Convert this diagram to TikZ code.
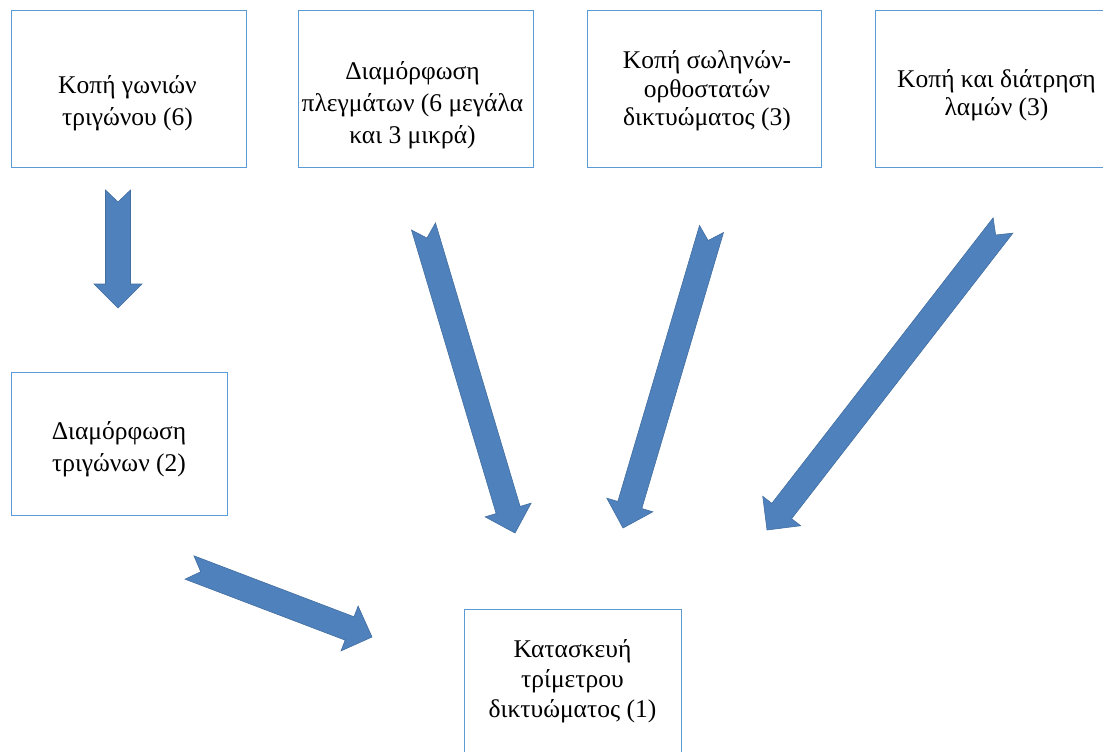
\documentclass[tikz,border=0pt]{standalone}
\usepackage{fontspec}
\setmainfont{Liberation Serif}
\usetikzlibrary{calc}

\definecolor{boxline}{RGB}{91,155,213}
\definecolor{arrowfill}{RGB}{79,129,189}
\definecolor{arrowedge}{RGB}{66,110,160}

\tikzset{
  stagebox/.style={draw=boxline, line width=1pt, inner sep=0pt},
  stagetext/.style={align=center, inner sep=0pt, font=\fontsize{25.5}{32}\selectfont},
  tighttext/.style={stagetext, font=\fontsize{25.5}{28.5}\selectfont},
  arrowbody/.style={fill=arrowfill, draw=arrowedge, line width=0.6pt, line join=miter}
}

% notched block arrow from tail #1 to tip #2
\newcommand{\blockarrow}[2]{%
  \coordinate (hb) at ($(#2)!24pt!(#1)$);
  \filldraw[arrowbody] ($(#1)!12.5pt!90:(#2)$) -- ($(hb)!12.5pt!90:(#2)$)
    -- ($(hb)!24pt!90:(#2)$) -- (#2) -- ($(hb)!24pt!-90:(#2)$)
    -- ($(hb)!12.5pt!-90:(#2)$) -- ($(#1)!12.5pt!-90:(#2)$)
    -- ($(#1)!12pt!(#2)$) -- cycle;}

\begin{document}
\begin{tikzpicture}[x=1pt, y=-1pt]
    \useasboundingbox (0,0) rectangle (1103,752);
    \clip (0,0) rectangle (1103,752);

    % Boxes
    \node[stagebox, minimum width=235pt, minimum height=156pt] (cut) at (128.5,89) {};
    \node[stagebox, minimum width=235pt, minimum height=156pt] (mesh) at (415.5,89) {};
    \node[stagebox, minimum width=234pt, minimum height=156pt] (tube) at (704,89) {};
    \node[stagebox, minimum width=235pt, minimum height=156pt] (plate) at (992.5,89) {};
    \node[stagebox, minimum width=216pt, minimum height=143pt] (tri) at (119,443.5) {};
    \node[stagebox, minimum width=217pt, minimum height=156pt] (truss) at (572.5,687) {};

    % Texts
    \node[stagetext] (cuttxt) at (127.5,103) {Κοπή γωνιών\\τριγώνου (6)};
    \node[stagetext] (meshtxt) at (412.5,105) {Διαμόρφωση\\πλεγμάτων (6 μεγάλα\\και 3 μικρά)};
    \node[tighttext] (tubetxt) at (707,91) {Κοπή σωληνών-\\ορθοστατών\\δικτυώματος (3)};
    \node[tighttext] (platetxt) at (996.5,95) {Κοπή και διάτρηση\\λαμών (3)};
    \node[stagetext] (tritxt) at (119,449) {Διαμόρφωση\\τριγώνων (2)};
    \node[tighttext, font=\fontsize{25.5}{30}\selectfont] (trusstxt) at (572.5,681) {Κατασκευή\\τρίμετρου\\δικτυώματος (1)};

    % Arrow ends
    \coordinate (cuttail) at (118,190);
    \coordinate (cuttip) at (118,308);
    \coordinate (tritail) at (189.5,567.5);
    \coordinate (tritip) at (372,637);
    \coordinate (meshtail) at (423.5,226.5);
    \coordinate (meshtip) at (515,533);
    \coordinate (tubetail) at (711.5,229);
    \coordinate (tubetip) at (623,528);
    \coordinate (platetail) at (1003,225.5);
    \coordinate (platetip) at (767,530);

    % Arrows
    \blockarrow{cuttail}{cuttip}
    \blockarrow{tritail}{tritip}
    \blockarrow{meshtail}{meshtip}
    \blockarrow{tubetail}{tubetip}
    \blockarrow{platetail}{platetip}
\end{tikzpicture}
\end{document}
